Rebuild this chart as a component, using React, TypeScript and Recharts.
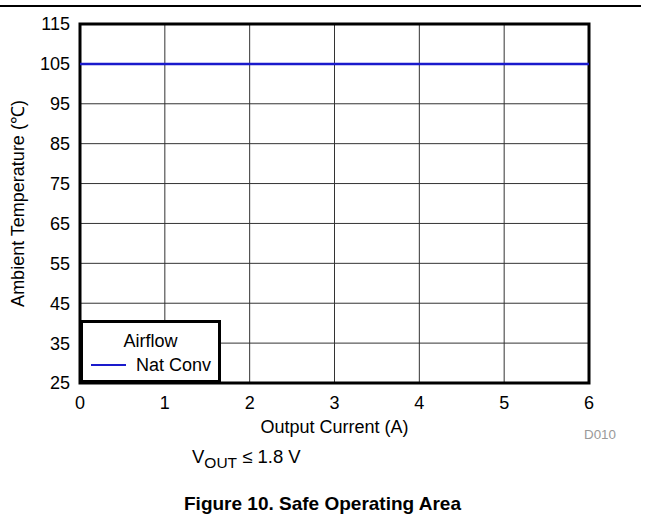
import React from "react";
import {
  LineChart,
  Line,
  XAxis,
  YAxis,
  CartesianGrid,
  ReferenceArea,
  Legend,
} from "recharts";

const currents = [0, 6];
const natConvTemp = [105, 105];
const xTicks = [0, 1, 2, 3, 4, 5, 6];
const yTicks = [25, 35, 45, 55, 65, 75, 85, 95, 105, 115];
const legendTitle = "Airflow";
const seriesName = "Nat Conv";

const FONT = "Arial, 'Liberation Sans', sans-serif";
const BLUE = "#1a1acc";

const chartData = currents.map((c, i) => ({ current: c, natConv: natConvTemp[i] }));

// boxed legend sitting in the lower left corner of the plot
const LegendBox = ({ payload }: any) => (
  <div
    style={{
      width: 141,
      height: 63,
      boxSizing: "border-box",
      border: "3px solid #000",
      background: "#fff",
      fontFamily: FONT,
      fontSize: 18,
      color: "#000",
      position: "relative",
    }}
  >
    <div style={{ position: "absolute", left: 0, right: 0, top: 9, textAlign: "center", lineHeight: "18px" }}>
      {legendTitle}
    </div>
    {(payload || []).map((p: any) => (
      <div key={p.value} style={{ position: "absolute", left: 8, top: 33, display: "flex", alignItems: "center", lineHeight: "18px" }}>
        <span style={{ display: "inline-block", width: 35, height: 2.5, background: p.color, marginRight: 10 }} />
        <span>{p.value}</span>
      </div>
    ))}
  </div>
);

const App: React.FC = () => {
  return (
    <div style={{ position: "absolute", left: 0, top: 0, width: 645, height: 519, background: "#fff", fontFamily: FONT }}>
      <div style={{ position: "absolute", left: 0, top: 5, width: 641, height: 1.5, background: "#000" }} />
      <LineChart
        width={645}
        height={440}
        data={chartData}
        margin={{ top: 24, right: 56, left: 8, bottom: 27 }}
      >
        <CartesianGrid stroke="#333" strokeWidth={1} />
        <XAxis
          dataKey="current"
          type="number"
          domain={[0, 6]}
          ticks={xTicks}
          axisLine={false}
          tickLine={false}
          tickSize={8}
          tickMargin={5}
          height={30}
          tick={{ fontSize: 18, fill: "#000", fontFamily: FONT }}
          label={{ value: "Output Current (A)", position: "bottom", offset: 7, fontSize: 18, fill: "#000", fontFamily: FONT }}
        />
        <YAxis
          type="number"
          domain={[25, 115]}
          ticks={yTicks}
          axisLine={false}
          tickLine={false}
          tickSize={8}
          tickMargin={2}
          width={72}
          tick={{ fontSize: 18, fill: "#000", fontFamily: FONT }}
          label={{
            value: "Ambient Temperature (℃)",
            angle: -90,
            position: "insideLeft",
            offset: 10,
            fontSize: 18,
            fill: "#000",
            fontFamily: FONT,
            style: { textAnchor: "middle" },
          }}
        />
        <Line
          type="linear"
          dataKey="natConv"
          name={seriesName}
          stroke={BLUE}
          strokeWidth={2.5}
          dot={false}
          isAnimationActive={false}
        />
        <ReferenceArea x1={0} x2={6} y1={25} y2={115} fill="none" stroke="#000" strokeWidth={3} ifOverflow="visible" />
        <Legend
          layout="vertical"
          align="center"
          verticalAlign="middle"
          wrapperStyle={{ left: 80, top: 320, width: 141, height: 63 }}
          content={<LegendBox />}
        />
      </LineChart>
      <div style={{ position: "absolute", left: 584, top: 427, fontSize: 13.4, color: "#999" }}>D010</div>
      <div style={{ position: "absolute", left: 192, top: 446, fontSize: 18.5, color: "#000", whiteSpace: "nowrap" }}>
        V<sub style={{ fontSize: 15.5, verticalAlign: "-5px" }}>OUT</sub> ≤ 1.8 V
      </div>
      <div
        style={{
          position: "absolute",
          left: 0,
          width: 645,
          top: 493,
          textAlign: "center",
          fontSize: 19,
          fontWeight: "bold",
          color: "#000",
        }}
      >
        Figure 10. Safe Operating Area
      </div>
    </div>
  );
};

export default App;
